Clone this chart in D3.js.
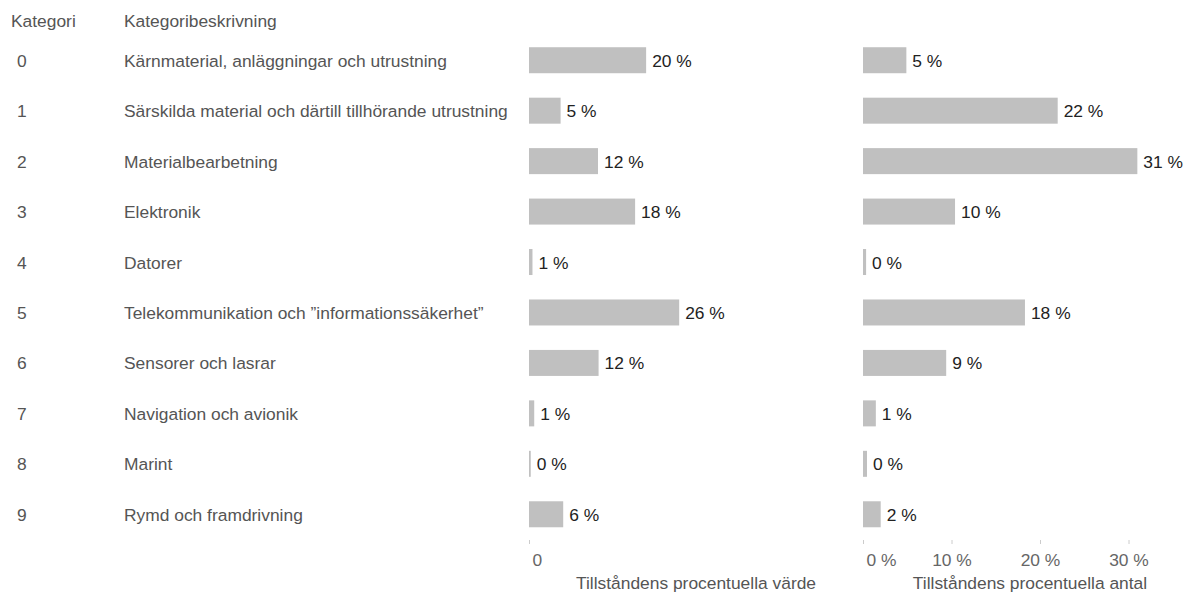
<!DOCTYPE html>
<html>
<head>
<meta charset="utf-8">
<script src="https://cdn.jsdelivr.net/npm/d3@7"></script>
<style>
  html, body { margin: 0; padding: 0; background: #fff; }
  svg { display: block; font-family: "Liberation Sans", Arial, sans-serif; }
</style>
</head>
<body>
<svg id="chart" width="1192" height="594"></svg>
<script>
const categories = ["0", "1", "2", "3", "4", "5", "6", "7", "8", "9"];
const descriptions = [
  "Kärnmaterial, anläggningar och utrustning",
  "Särskilda material och därtill tillhörande utrustning",
  "Materialbearbetning",
  "Elektronik",
  "Datorer",
  "Telekommunikation och ”informationssäkerhet”",
  "Sensorer och lasrar",
  "Navigation och avionik",
  "Marint",
  "Rymd och framdrivning"
];
// percent values
const valueShare = [20.2, 5.45, 11.9, 18.3, 0.6, 25.9, 12.0, 0.9, 0.3, 5.9];
const countShare = [4.9, 22.0, 31.0, 10.4, 0.35, 18.3, 9.4, 1.45, 0.45, 2.0];
const valueTicks = [0];
const countTicks = [0, 10, 20, 30];
const headerCategory = "Kategori";
const headerDescription = "Kategoribeskrivning";
const titleValue = "Tillståndens procentuella värde";
const titleCount = "Tillståndens procentuella antal";

const svg = d3.select("#chart");
const FS = "17.4px";
const barColor = "#c0c0c0";

const y = d3.scaleBand().domain(categories).range([35, 539.5]).padding(0);
const barH = 26;
const xL = d3.scaleLinear().domain([0, 57.6]).range([529, 863]);
const xR = d3.scaleLinear().domain([0, 37.74]).range([863, 1197]);

// headers
svg.append("text").attr("x", 11).attr("y", 27).text(headerCategory)
  .attr("font-size", FS).attr("fill", "#555");
svg.append("text").attr("x", 124).attr("y", 27).text(headerDescription)
  .attr("font-size", FS).attr("fill", "#555");

const rows = categories.map((c, i) => ({ c, d: descriptions[i], v: valueShare[i], n: countShare[i] }));

const g = svg.append("g");
g.selectAll("text.cat").data(rows).join("text").attr("class", "cat")
  .attr("x", 17).attr("y", d => y(d.c) + y.bandwidth() / 2 + 6.5)
  .attr("font-size", FS).attr("fill", "#555").text(d => d.c);
g.selectAll("text.desc").data(rows).join("text").attr("class", "desc")
  .attr("x", 124).attr("y", d => y(d.c) + y.bandwidth() / 2 + 6.5)
  .attr("font-size", FS).attr("fill", "#555").text(d => d.d);

function panel(x, key) {
  const p = svg.append("g");
  p.selectAll("rect").data(rows).join("rect")
    .attr("x", x(0)).attr("y", d => y(d.c) + y.bandwidth() / 2 - barH / 2)
    .attr("width", d => Math.max(1.5, x(d[key]) - x(0))).attr("height", barH)
    .attr("fill", barColor);
  p.selectAll("text").data(rows).join("text")
    .attr("x", d => Math.max(x(0) + 1.5, x(d[key])) + 6)
    .attr("y", d => y(d.c) + y.bandwidth() / 2 + 6.5)
    .attr("font-size", FS).attr("fill", "#222")
    .text(d => Math.round(d[key]) + " %");
}
panel(xL, "v");
panel(xR, "n");

function axis(x, ticks, fmt, title) {
  const a = svg.append("g").attr("transform", "translate(0,540)")
    .call(d3.axisBottom(x).tickValues(ticks).tickSize(4).tickPadding(10).tickFormat(fmt));
  a.select(".domain").remove();
  a.selectAll(".tick line").attr("stroke", "#ccc");
  a.selectAll(".tick text").attr("font-size", FS).attr("fill", "#666")
    .attr("font-family", "Liberation Sans, Arial, sans-serif");
  a.selectAll(".tick text").filter(d => d === 0).attr("text-anchor", "start").attr("x", 3);
  const r = x.range();
  svg.append("text").attr("x", (r[0] + r[1]) / 2).attr("y", 589)
    .attr("text-anchor", "middle").attr("font-size", FS).attr("fill", "#555").text(title);
}
axis(xL, valueTicks, d => String(d), titleValue);
axis(xR, countTicks, d => d + " %", titleCount);
</script>
</body>
</html>
